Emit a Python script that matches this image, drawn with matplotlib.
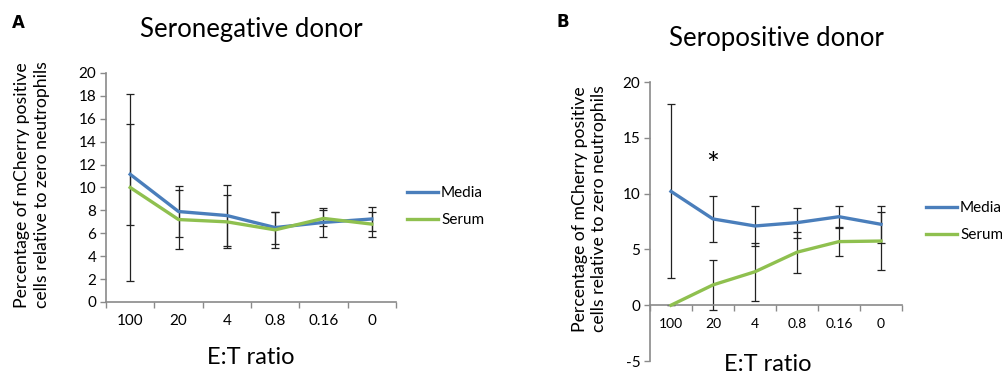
import numpy as np
import matplotlib.pyplot as plt

plt.rcParams['font.family'] = ['Lato', 'DejaVu Sans']
plt.rcParams['axes.unicode_minus'] = False

ratios = ['100', '20', '4', '0.8', '0.16', '0']

# Seronegative donor (panel A)
neg_media = [11.15, 7.9, 7.55, 6.5, 6.95, 7.25]
neg_media_err = [4.4, 2.25, 2.65, 1.4, 1.25, 1.05]
neg_serum = [10.0, 7.2, 7.0, 6.3, 7.3, 6.8]
neg_serum_err = [8.2, 2.6, 2.3, 1.6, 0.7, 1.1]

# Seropositive donor (panel B)
pos_media = [10.2, 7.73, 7.1, 7.4, 7.93, 7.25]
pos_media_err = [7.8, 2.1, 1.75, 1.35, 1.0, 1.65]
pos_serum = [0.0, 1.82, 3.0, 4.75, 5.7, 5.75]
pos_serum_err = [0.0, 2.25, 2.6, 1.85, 1.3, 2.6]

blue = '#4a7ebb'
green = '#8fc04f'
grey = '#8a8a8a'


def panel(ax, media, media_err, serum, serum_err):
    x = np.arange(len(ratios))
    for y, e in [(media, media_err), (serum, serum_err)]:
        ax.errorbar(x, y, yerr=e, fmt='none', ecolor='#222222',
                    elinewidth=0.9, capsize=3, capthick=0.9, zorder=2)
    ax.plot(x, media, color=blue, lw=2.4, label='Media', zorder=3)
    ax.plot(x, serum, color=green, lw=2.4, label='Serum', zorder=3)
    ax.set_xlim(-0.5, len(ratios) - 0.5)
    ax.set_xticks(x)
    ax.set_xticklabels(ratios, fontsize=11)
    ax.set_xticks(np.arange(-0.5, len(ratios)), minor=True)
    ax.tick_params(axis='x', which='major', length=0, pad=9)
    ax.tick_params(axis='x', which='minor', length=4, color=grey, width=1)
    ax.tick_params(axis='y', length=4, color=grey, width=1, labelsize=11, pad=3)
    for s in ['top', 'right']:
        ax.spines[s].set_visible(False)
    for s in ['left', 'bottom']:
        ax.spines[s].set_color(grey)
        ax.spines[s].set_linewidth(1.2)
    ax.set_ylabel('Percentage of mCherry positive\ncells relative to zero neutrophils',
                  fontsize=12.7, linespacing=1.25, va='center')


fig = plt.figure(figsize=(10.02, 3.75), dpi=100)

axA = fig.add_axes([0.1058, 0.1947, 0.2894, 0.6107])
panel(axA, neg_media, neg_media_err, neg_serum, neg_serum_err)
axA.set_ylim(0, 20)
axA.set_yticks(np.arange(0, 21, 2))
axA.yaxis.set_label_coords(0.032, 0.507, transform=fig.transFigure)
axA.set_xlabel('E:T ratio', fontsize=17, labelpad=13)
axA.set_title('Seronegative donor', fontsize=18.5, pad=26)
axA.legend(loc='center left', bbox_to_anchor=(0.399, 0.449),
           bbox_transform=fig.transFigure, frameon=False, fontsize=11,
           handlelength=2.0, handletextpad=0.2, labelspacing=0.85, borderpad=0)

axB = fig.add_axes([0.6487, 0.0373, 0.2515, 0.744])
panel(axB, pos_media, pos_media_err, pos_serum, pos_serum_err)
axB.set_ylim(-5, 20)
axB.set_yticks(np.arange(-5, 21, 5))
axB.spines['bottom'].set_position(('data', 0))
axB.yaxis.set_label_coords(0.588, 0.443, transform=fig.transFigure)
axB.set_xlabel('E:T ratio', fontsize=17, labelpad=0, va='baseline')
axB.xaxis.set_label_coords(0.766, 0.01, transform=fig.transFigure)
axB.set_title('Seropositive donor', fontsize=18.5, pad=26)
axB.text(1, 12.6, '*', ha='center', va='center', fontsize=22)
axB.legend(loc='center left', bbox_to_anchor=(0.917, 0.409),
           bbox_transform=fig.transFigure, frameon=False, fontsize=11,
           handlelength=2.0, handletextpad=0.2, labelspacing=0.85, borderpad=0)

fig.text(0.018, 0.938, 'A', fontsize=12, fontweight='bold',
         family='DejaVu Sans', ha='center', va='center')
fig.text(0.562, 0.941, 'B', fontsize=12, fontweight='bold',
         family='DejaVu Sans', ha='center', va='center')

fig.savefig('out.png', dpi=100)
